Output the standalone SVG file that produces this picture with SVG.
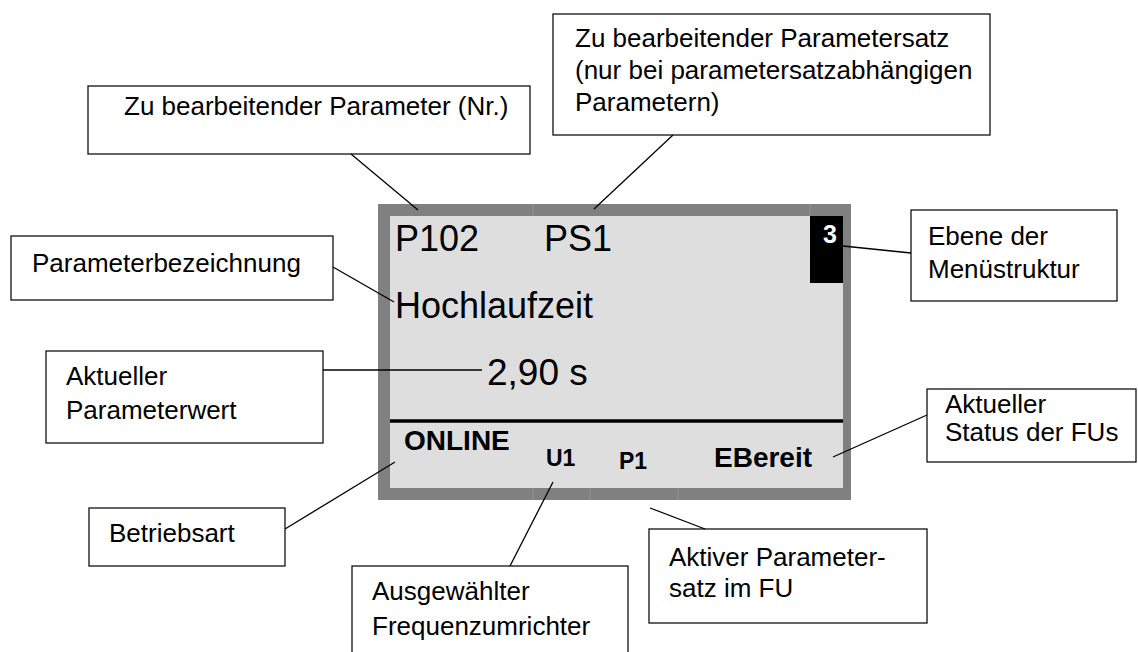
<svg xmlns="http://www.w3.org/2000/svg" width="1138" height="652" viewBox="0 0 1138 652">
<style>
.box{fill:#fff;stroke:#111;stroke-width:1.3}
.t{font-family:"Liberation Sans",Arial,sans-serif;font-size:26px;fill:#000}
.d{font-family:"Liberation Sans",Arial,sans-serif;font-size:36px;fill:#000}
.b{font-family:"Liberation Sans",Arial,sans-serif;font-weight:bold;fill:#000}
.c{stroke:#000;stroke-width:1.3;fill:none}
.tick{stroke:#929292;stroke-width:1}
</style>
<rect width="1138" height="652" fill="#fff"/>
<g id="display">
<rect x="378" y="204" width="473" height="296" fill="#808080"/>
<rect x="390" y="216" width="453" height="272" fill="#dedede"/>
<line x1="533" y1="204" x2="533" y2="216" class="tick"/>
<line x1="810" y1="204" x2="810" y2="216" class="tick"/>
<line x1="533" y1="488" x2="533" y2="500" class="tick"/>
<line x1="590" y1="488" x2="590" y2="500" class="tick"/>
<line x1="678" y1="488" x2="678" y2="500" class="tick"/>
<rect x="810" y="216" width="33" height="67" fill="#000"/>
<text x="830" y="243" text-anchor="middle" class="b" font-size="25" style="fill:#fff">3</text>
<line x1="390" y1="421" x2="843" y2="421" stroke="#000" stroke-width="3.5"/>
<text x="395" y="251" class="d">P102</text>
<text x="544" y="251" class="d">PS1</text>
<text x="395" y="318" class="d">Hochlaufzeit</text>
<text x="487" y="385" class="d" style="font-size:37px">2,90 s</text>
<text x="404" y="450" class="b" font-size="28">ONLINE</text>
<text x="546" y="466" class="b" font-size="23">U1</text>
<text x="619" y="469" class="b" font-size="23">P1</text>
<text x="714" y="467" class="b" font-size="28">EBereit</text>
</g>
<g id="n-param-nr">
<rect x="88" y="86" width="442" height="68" class="box"/>
<text x="124" y="115" class="t">Zu bearbeitender Parameter (Nr.)</text>
</g>
<g id="n-paramsatz">
<rect x="553" y="14" width="437" height="121" class="box"/>
<text x="575" y="47" class="t">Zu bearbeitender Parametersatz</text>
<text x="575" y="79" class="t">(nur bei parametersatzabhängigen</text>
<text x="575" y="111" class="t">Parametern)</text>
</g>
<g id="n-bezeichnung">
<rect x="11" y="236" width="322" height="64" class="box"/>
<text x="32" y="272" class="t">Parameterbezeichnung</text>
</g>
<g id="n-wert">
<rect x="46" y="351" width="277" height="92" class="box"/>
<text x="66" y="385" class="t">Aktueller</text>
<text x="66" y="419" class="t">Parameterwert</text>
</g>
<g id="n-betriebsart">
<rect x="89" y="508" width="196" height="58" class="box"/>
<text x="109" y="542" class="t">Betriebsart</text>
</g>
<g id="n-fu">
<rect x="352" y="566" width="276" height="100" class="box"/>
<text x="372" y="600" class="t">Ausgewählter</text>
<text x="372" y="635" class="t">Frequenzumrichter</text>
</g>
<g id="n-aktiver">
<rect x="649" y="529" width="278" height="94" class="box"/>
<text x="669" y="566" class="t">Aktiver Parameter-</text>
<text x="669" y="597" class="t">satz im FU</text>
</g>
<g id="n-status">
<rect x="927" y="389" width="209" height="73" class="box"/>
<text x="945" y="413" class="t">Aktueller</text>
<text x="945" y="441" class="t">Status der FUs</text>
</g>
<g id="n-ebene">
<rect x="911" y="210" width="206" height="91" class="box"/>
<text x="928" y="245" class="t">Ebene der</text>
<text x="928" y="278" class="t">Menüstruktur</text>
</g>
<g id="connectors">
<line x1="351" y1="154" x2="418" y2="210" class="c"/>
<line x1="673" y1="135" x2="594" y2="209" class="c"/>
<line x1="333" y1="267" x2="394" y2="302" class="c"/>
<line x1="323" y1="370" x2="482" y2="370" class="c"/>
<line x1="285" y1="529" x2="395" y2="462" class="c"/>
<line x1="510" y1="566" x2="553" y2="482" class="c"/>
<line x1="705" y1="529" x2="650" y2="508" class="c"/>
<line x1="927" y1="415" x2="833" y2="457" class="c"/>
<line x1="843" y1="246" x2="911" y2="253" class="c"/>
</g>
</svg>
